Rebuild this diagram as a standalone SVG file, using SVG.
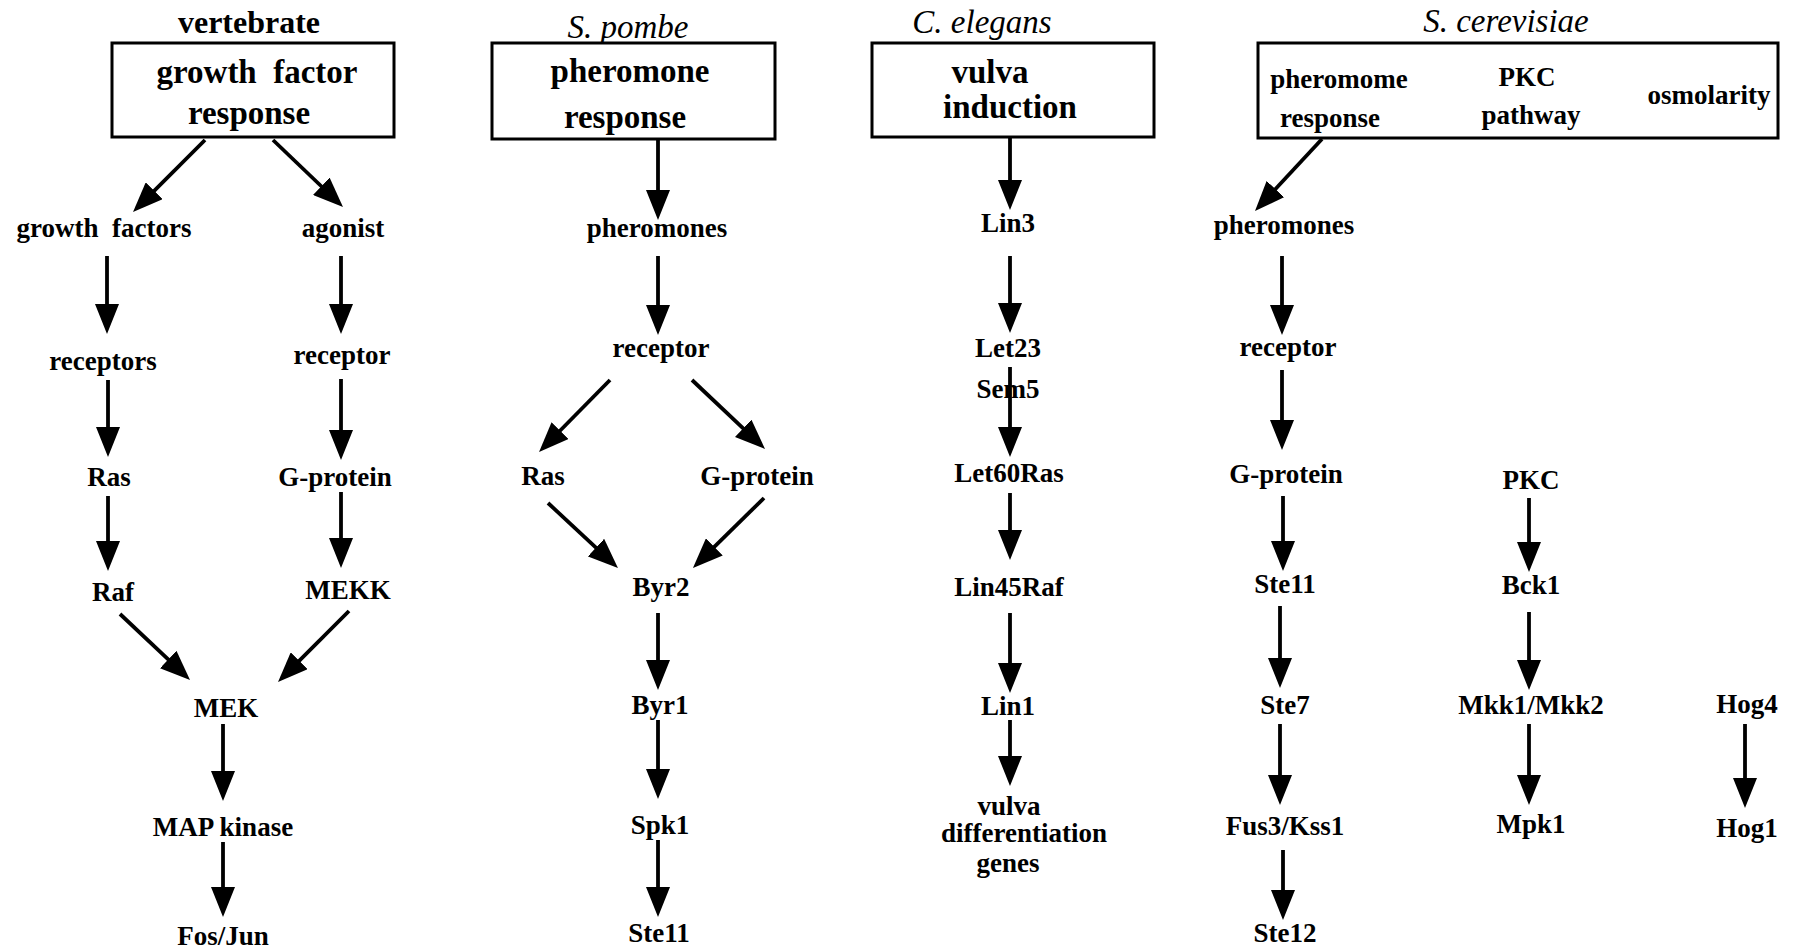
<svg xmlns="http://www.w3.org/2000/svg" width="1809" height="952" viewBox="0 0 1809 952">
<style>
text{font-family:"Liberation Serif","Times New Roman",serif;font-weight:bold;fill:#000;text-anchor:middle}
.n{font-size:27px}
.h{font-size:33px}
.sp{font-style:italic;font-weight:normal;font-size:33px}
.t{font-size:32px}
.box{fill:#fff;stroke:#000;stroke-width:3}
.a{stroke:#000;stroke-width:3.8;fill:none;marker-end:url(#ah)}
</style>
<defs>
<marker id="ah" markerUnits="userSpaceOnUse" markerWidth="30" markerHeight="24" refX="4" refY="12" orient="auto" viewBox="0 0 30 24">
<path d="M0,0 L30,12 L0,24 z" fill="#000"/>
</marker>
</defs>
<rect width="1809" height="952" fill="#fff"/>

<g id="vertebrate">
<text class="t" x="249" y="33">vertebrate</text>
<rect class="box" x="112" y="43" width="282" height="94"/>
<text class="h" x="257" y="83" xml:space="preserve">growth  factor</text>
<text class="h" x="249" y="124">response</text>
</g>
<g id="pombe">
<text class="sp" x="628" y="38">S. pombe</text>
<rect class="box" x="492" y="43" width="283" height="96"/>
<text class="h" x="630" y="82">pheromone</text>
<text class="h" x="625" y="128">response</text>
</g>
<g id="elegans">
<text class="sp" x="982" y="33">C. elegans</text>
<rect class="box" x="872" y="43" width="282" height="94"/>
<text class="h" x="990" y="83">vulva</text>
<text class="h" x="1010" y="118">induction</text>
</g>
<g id="cerevisiae">
<text class="sp" x="1506" y="32">S. cerevisiae</text>
<rect class="box" x="1258" y="43" width="520" height="95"/>
<text class="n" x="1339" y="88">pheromome</text>
<text class="n" x="1330" y="127">response</text>
<text class="n" x="1527" y="86">PKC</text>
<text class="n" x="1531" y="124">pathway</text>
<text class="n" x="1709" y="104">osmolarity</text>
</g>

<g id="nodes-vertebrate">
<text class="n" x="104" y="237" xml:space="preserve">growth  factors</text>
<text class="n" x="343" y="237">agonist</text>
<text class="n" x="103" y="370">receptors</text>
<text class="n" x="342" y="364">receptor</text>
<text class="n" x="109" y="486">Ras</text>
<text class="n" x="335" y="486">G-protein</text>
<text class="n" x="113" y="601">Raf</text>
<text class="n" x="348" y="599">MEKK</text>
<text class="n" x="226" y="717">MEK</text>
<text class="n" x="223" y="836">MAP kinase</text>
<text class="n" x="223" y="945">Fos/Jun</text>
</g>
<g id="nodes-pombe">
<text class="n" x="657" y="237">pheromones</text>
<text class="n" x="661" y="357">receptor</text>
<text class="n" x="543" y="485">Ras</text>
<text class="n" x="757" y="485">G-protein</text>
<text class="n" x="661" y="596">Byr2</text>
<text class="n" x="660" y="714">Byr1</text>
<text class="n" x="660" y="834">Spk1</text>
<text class="n" x="659" y="942">Ste11</text>
</g>
<g id="nodes-elegans">
<text class="n" x="1008" y="232">Lin3</text>
<text class="n" x="1008" y="357">Let23</text>
<text class="n" x="1008" y="398">Sem5</text>
<text class="n" x="1009" y="482">Let60Ras</text>
<text class="n" x="1009" y="596">Lin45Raf</text>
<text class="n" x="1008" y="715">Lin1</text>
<text class="n" x="1009" y="815">vulva</text>
<text class="n" x="1024" y="842">differentiation</text>
<text class="n" x="1008" y="872">genes</text>
</g>
<g id="nodes-cerevisiae">
<text class="n" x="1284" y="234">pheromones</text>
<text class="n" x="1288" y="356">receptor</text>
<text class="n" x="1286" y="483">G-protein</text>
<text class="n" x="1285" y="593">Ste11</text>
<text class="n" x="1285" y="714">Ste7</text>
<text class="n" x="1285" y="835">Fus3/Kss1</text>
<text class="n" x="1285" y="942">Ste12</text>
<text class="n" x="1531" y="489">PKC</text>
<text class="n" x="1531" y="594">Bck1</text>
<text class="n" x="1531" y="714">Mkk1/Mkk2</text>
<text class="n" x="1531" y="833">Mpk1</text>
<text class="n" x="1747" y="713">Hog4</text>
<text class="n" x="1747" y="837">Hog1</text>
</g>

<g id="connectors">
<line class="a" x1="205" y1="140" x2="151.4" y2="193.6"/>
<line class="a" x1="273" y1="140" x2="324.2" y2="189"/>
<line class="a" x1="107" y1="256" x2="107" y2="308"/>
<line class="a" x1="108" y1="380" x2="108" y2="431"/>
<line class="a" x1="108" y1="496" x2="108" y2="545"/>
<line class="a" x1="341" y1="256" x2="341" y2="308"/>
<line class="a" x1="341" y1="379" x2="341" y2="434"/>
<line class="a" x1="341" y1="492" x2="341" y2="542"/>
<line class="a" x1="120" y1="614" x2="171.1" y2="662.2"/>
<line class="a" x1="349" y1="611" x2="296.4" y2="663.6"/>
<line class="a" x1="223" y1="724" x2="223" y2="775"/>
<line class="a" x1="223" y1="842" x2="223" y2="891"/>

<line class="a" x1="658" y1="139" x2="658" y2="194"/>
<line class="a" x1="658" y1="256" x2="658" y2="309"/>
<line class="a" x1="610" y1="380" x2="557.3" y2="433.5"/>
<line class="a" x1="692" y1="380" x2="746.1" y2="431.1"/>
<line class="a" x1="548" y1="503" x2="598.9" y2="550.3"/>
<line class="a" x1="764" y1="498" x2="711.5" y2="549.7"/>
<line class="a" x1="658" y1="613" x2="658" y2="664"/>
<line class="a" x1="658" y1="720" x2="658" y2="773"/>
<line class="a" x1="658" y1="840" x2="658" y2="891"/>

<line class="a" x1="1010" y1="137" x2="1010" y2="184"/>
<line class="a" x1="1010" y1="256" x2="1010" y2="307"/>
<line class="a" x1="1010" y1="367" x2="1010" y2="431"/>
<line class="a" x1="1010" y1="493" x2="1010" y2="534"/>
<line class="a" x1="1010" y1="613" x2="1010" y2="667"/>
<line class="a" x1="1010" y1="720" x2="1010" y2="760"/>

<line class="a" x1="1322" y1="139" x2="1272.7" y2="192"/>
<line class="a" x1="1282" y1="256" x2="1282" y2="309"/>
<line class="a" x1="1282" y1="370" x2="1282" y2="424"/>
<line class="a" x1="1283" y1="496" x2="1283" y2="545"/>
<line class="a" x1="1280" y1="606" x2="1280" y2="662"/>
<line class="a" x1="1280" y1="724" x2="1280" y2="779"/>
<line class="a" x1="1283" y1="850" x2="1283" y2="894"/>
<line class="a" x1="1529" y1="498" x2="1529" y2="546"/>
<line class="a" x1="1529" y1="612" x2="1529" y2="664"/>
<line class="a" x1="1529" y1="724" x2="1529" y2="779"/>
<line class="a" x1="1745" y1="724" x2="1745" y2="782"/>
</g>
</svg>
